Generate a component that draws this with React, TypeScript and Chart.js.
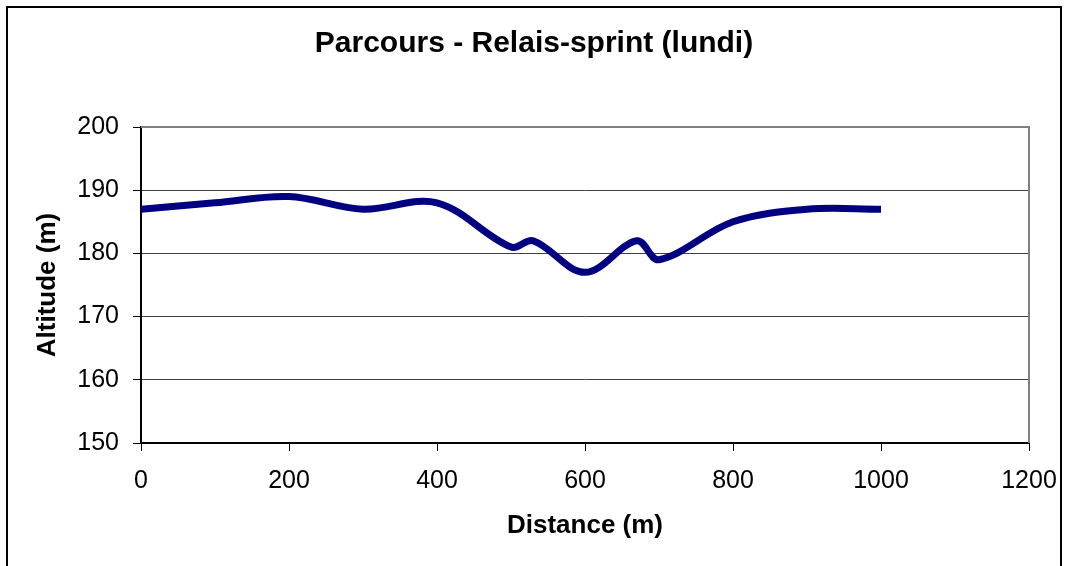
import React, { useEffect, useRef } from 'react';
import { Chart, registerables } from 'chart.js';

Chart.register(...registerables);

const distances = [0, 100, 200, 300, 400, 500, 530, 600, 670, 700, 800, 900, 1000];
const altitudes = [187, 188, 189, 187, 188, 181, 182, 177, 182, 179, 185, 187, 187];
const xTickValues = [0, 200, 400, 600, 800, 1000, 1200];
const yTickValues = [150, 160, 170, 180, 190, 200];
const chartTitle = 'Parcours - Relais-sprint (lundi)';
const xAxisTitle = 'Distance (m)';
const yAxisTitle = 'Altitude (m)';

const FONT = 'Arial, "Liberation Sans", sans-serif';

const framePlugin = {
  id: 'plotFrame',
  beforeDatasetsDraw(chart: any) {
    const { ctx, chartArea } = chart;
    const { left, top, right, bottom } = chartArea;
    ctx.save();
    ctx.strokeStyle = '#808080';
    ctx.lineWidth = 2;
    ctx.beginPath();
    ctx.moveTo(left, top);
    ctx.lineTo(right, top);
    ctx.lineTo(right, bottom);
    ctx.stroke();
    ctx.restore();
  },
};

export default function App() {
  const canvasRef = useRef<HTMLCanvasElement | null>(null);

  useEffect(() => {
    if (!canvasRef.current) return;
    const points = distances.map((d, i) => ({ x: d, y: altitudes[i] }));
    const chart = new Chart(canvasRef.current, {
      type: 'line',
      data: {
        datasets: [
          {
            data: points,
            borderColor: '#000080',
            backgroundColor: '#000080',
            borderWidth: 7,
            tension: 0.35,
            pointRadius: 0,
            fill: false,
          },
        ],
      },
      options: {
        responsive: false,
        animation: false,
        layout: { padding: 0 },
        plugins: {
          legend: { display: false },
          tooltip: { enabled: false },
          title: {
            display: true,
            text: chartTitle,
            color: '#000',
            font: { family: FONT, size: 30, weight: 'bold' },
            padding: { top: 17.7, bottom: 65.3 },
          },
        },
        scales: {
          x: {
            type: 'linear',
            min: 0,
            max: 1200,
            afterBuildTicks: (s: any) => {
              s.ticks = xTickValues.map((v) => ({ value: v }));
            },
            afterFit: (s: any) => {
              s.height = 123;
              s.paddingLeft = 0;
              s.paddingRight = 31;
            },
            ticks: {
              color: '#000',
              font: { family: FONT, size: 25 },
              padding: 15,
              maxRotation: 0,
              autoSkip: false,
              callback: (v: any) => String(v),
            },
            grid: {
              drawOnChartArea: false,
              drawTicks: true,
              tickLength: 8,
              tickColor: '#000',
              tickWidth: 1,
            },
            border: { display: true, color: '#000', width: 2 },
            title: {
              display: true,
              text: xAxisTitle,
              color: '#000',
              font: { family: FONT, size: 26, weight: 'bold' },
              padding: { top: 0, bottom: 24.7 },
            },
          },
          y: {
            type: 'linear',
            min: 150,
            max: 200,
            afterBuildTicks: (s: any) => {
              s.ticks = yTickValues.map((v) => ({ value: v }));
            },
            afterFit: (s: any) => {
              s.width = 133;
            },
            ticks: {
              color: '#000',
              font: { family: FONT, size: 25 },
              padding: 14,
              autoSkip: false,
              callback: (v: any) => String(v),
            },
            grid: {
              color: '#404040',
              lineWidth: 1,
              drawTicks: true,
              tickLength: 8,
              tickColor: '#000',
              tickWidth: 1,
            },
            border: { display: true, color: '#000', width: 2 },
            title: {
              display: true,
              text: yAxisTitle,
              color: '#000',
              font: { family: FONT, size: 26, weight: 'bold' },
              padding: { top: 23.9, bottom: 0 },
            },
          },
        },
      },
      plugins: [framePlugin],
    } as any);
    return () => chart.destroy();
  }, []);

  return (
    <div
      style={{
        position: 'absolute',
        left: 6,
        top: 6,
        width: 1056,
        height: 560,
        boxSizing: 'border-box',
        borderTop: '2px solid #000',
        borderLeft: '2px solid #000',
        borderRight: '2px solid #000',
        background: '#fff',
        overflow: 'hidden',
      }}
    >
      <canvas
        ref={canvasRef}
        width={1052}
        height={558}
        style={{ position: 'absolute', left: 0, top: 0, width: 1052, height: 558 }}
      />
    </div>
  );
}
